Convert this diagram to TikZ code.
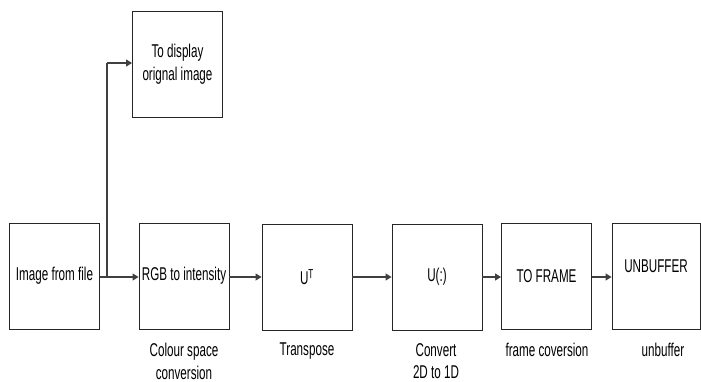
\documentclass[tikz,border=0pt]{standalone}
\usepackage{fontspec}
\setmainfont[FakeStretch=0.63]{Liberation Sans}
\usetikzlibrary{arrows.meta}
\begin{document}
\begin{tikzpicture}[x=1pt,y=-1pt,
  font=\fontsize{18.5}{22.6}\selectfont,
  blk/.style={draw=black!85,line width=0.9pt,minimum width=90pt,minimum height=106pt,inner sep=0pt,align=center},
  conn/.style={draw=black!75,line width=1.1pt,-{Triangle[length=6pt,width=7pt]}},
  captxt/.style={anchor=north,inner sep=0pt,align=center}]
\useasboundingbox (0,0) rectangle (701,381);
\node[blk] (b1) at (54.5,276) {Image from file};
\node[blk] (b2) at (184,276) {RGB to intensity};
\node[blk] (b3) at (307,277) {U\textsuperscript{T}};
\node[blk] (b4) at (437,277) {U(:)};
\node[blk] (b5) at (546.5,276) {TO FRAME};
\node[blk,minimum width=88pt] (b6) at (656,276) {};
\node (t6) at (656,266) {UNBUFFER};
\node[blk] (top) at (177.5,64) {To display\\orignal image};
\coordinate (br) at (107,277);
\coordinate (up) at (107,63);
\draw[conn] (b1.east |- br) -- (b2.west |- br);
\draw[draw=black!75,line width=1.1pt] (br) -- (up);
\draw[conn] (up) -- (top.west |- up);
\draw[conn] (b2.east |- br) -- (b3.west |- br);
\draw[conn] (b3.east |- br) -- (b4.west |- br);
\draw[conn] (b4.east |- br) -- (b5.west |- br);
\draw[conn] (b5.east |- br) -- (b6.west |- br);
\node[captxt] (c2) at (184,343) {Colour space\\conversion};
\node[captxt] (c3) at (307,343) {Transpose};
\node[captxt] (c4) at (436,343) {Convert\\2D to 1D};
\node[captxt] (c5) at (547,343) {frame coversion};
\node[captxt] (c6) at (663,343) {unbuffer};
\end{tikzpicture}
\end{document}
